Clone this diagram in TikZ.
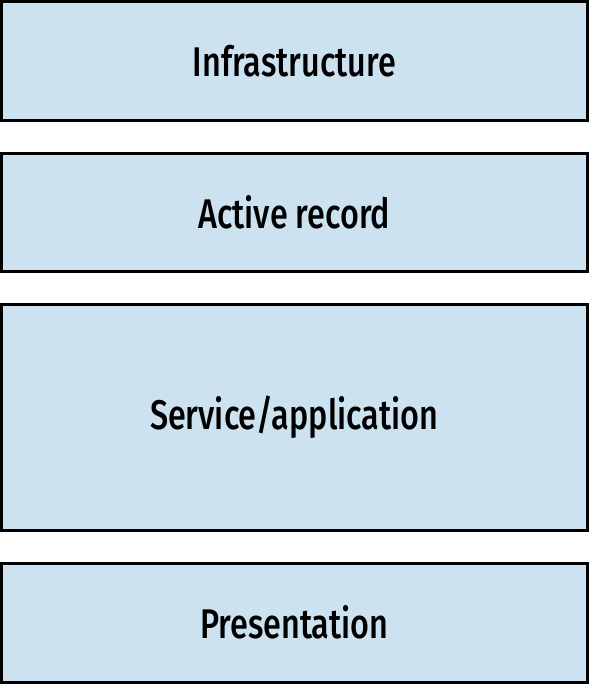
\documentclass[tikz,border=0pt]{standalone}
\usepackage{fontspec}
\setmainfont{Fira Sans}[UprightFont=* Medium,FakeStretch=0.78]
\usetikzlibrary{positioning}
\definecolor{layerblue}{HTML}{CCE2F0}

\begin{document}
\begin{tikzpicture}[layer/.style={draw=black,line width=0.15cm,fill=layerblue,minimum width=29.27cm,inner sep=0pt,font=\fontsize{59}{61}\selectfont}]
%================================================================
%	Frame
\useasboundingbox (0,0) rectangle (29.45,-34.25);
%================================================================
%	Layers
\node[layer, minimum height=5.92cm] (infra) at (14.715,-3.04) {Infrastructure};
\node[layer, minimum height=5.9cm, below=1.5cm of infra] (record) {Active record};
\node[layer, minimum height=11.3cm, below=1.5cm of record] (service) {Service/application};
\node[layer, minimum height=5.95cm, below=1.5cm of service] (present) {Presentation};
%================================================================
\end{tikzpicture}
\end{document}
